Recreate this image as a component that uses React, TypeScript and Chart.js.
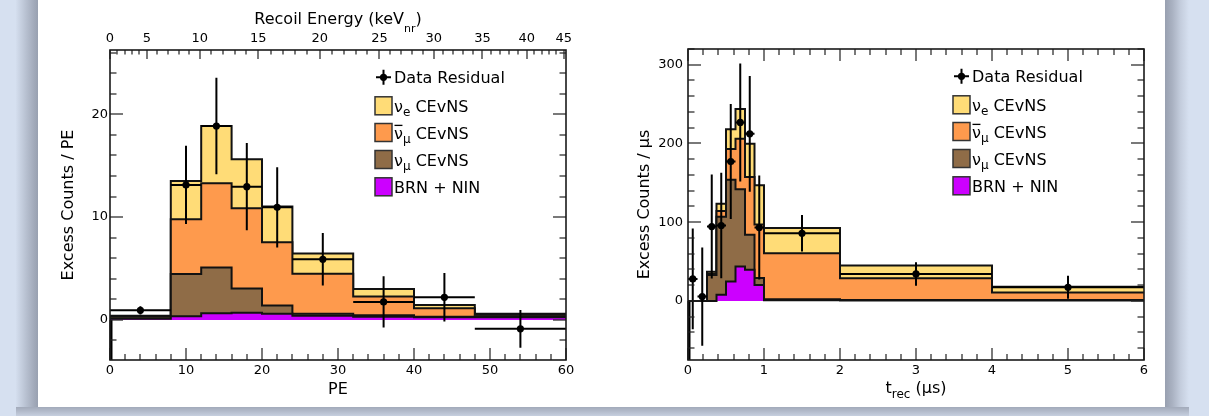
import React, { useEffect, useRef } from "react";
import { Chart, registerables } from "chart.js";

Chart.register(...registerables);

const FONT = "'DejaVu Sans', 'Liberation Sans', Arial, sans-serif";

// ---------------- Left panel: PE spectrum ----------------
const peEdges = [0, 8, 12, 16, 20, 24, 32, 40, 48, 60];
const peBrnNin = [0.1, 0.35, 0.65, 0.7, 0.6, 0.4, 0.3, 0.25, 0.25];
const peNuMu = [0.2, 4.12, 4.44, 2.35, 0.79, 0.2, 0.15, 0.05, 0.1];
const peNuMuBar = [0.05, 5.32, 8.2, 7.81, 6.16, 3.9, 1.82, 0.83, 0.15];
const peNuE = [0.05, 3.71, 5.57, 4.76, 3.47, 1.95, 0.73, 0.33, 0.1];
const peDataX = [4, 10, 14, 18, 22, 28, 36, 44, 54];
const peData = [0.93, 13.13, 18.86, 12.96, 10.95, 5.9, 1.75, 2.2, -0.87];
const peDataErr = [0.4, 3.8, 4.7, 4.25, 3.9, 2.55, 2.5, 2.35, 1.83];
const peXTicks = [0, 10, 20, 30, 40, 50, 60];
const peYTicks = [0, 10, 20];
const keVTickLabels = ["0", "5", "10", "15", "20", "25", "30", "35", "40", "45"];
const keVTickPE = [0, 4.85, 11.8, 19.5, 27.6, 35.45, 42.6, 49.0, 54.85, 59.7];

// ---------------- Right panel: timing ----------------
const tEdges = [0, 0.125, 0.25, 0.375, 0.5, 0.625, 0.75, 0.875, 1, 2, 4, 6];
const tBrnNin = [0, 0, 0, 8, 24.6, 43.6, 39.5, 20.3, 1, 0.7, 0.7];
const tNuMu = [0, 0, 33, 99, 129.2, 98.4, 44.5, 8.7, 1, 0.6, 0.6];
const tNuMuBar = [0, 0, 1.5, 7.4, 39.2, 64, 73.5, 68, 58.6, 27.5, 9.3];
const tNuE = [0, 0, 2.5, 8.9, 25, 37.7, 42, 50, 31.9, 16.1, 7.4];
const tDataX = [0.0625, 0.1875, 0.3125, 0.4375, 0.5625, 0.6875, 0.8125, 0.9375, 1.5, 3, 5];
const tData = [28, 5.5, 94.5, 95.8, 177, 226.7, 212.3, 93.2, 86, 34.3, 17.4];
const tDataErr = [64, 62.5, 66, 67, 73, 75, 73.5, 66, 23.3, 15, 14.6];
const tXTicks = [0, 1, 2, 3, 4, 5, 6];
const tYTicks = [0, 100, 200, 300];

// colours: bottom -> top (BRN+NIN, nu_mu, nubar_mu, nu_e)
const LAYER_COLORS = ["#cc00ff", "#8f6c47", "#fe9a4d", "#ffdc77"];

type Part = { t: string; sub?: boolean; bar?: boolean };
const legendEntries: { kind: string; color?: string; parts: Part[] }[] = [
  { kind: "data", parts: [{ t: "Data Residual" }] },
  { kind: "box", color: LAYER_COLORS[3], parts: [{ t: "ν" }, { t: "e", sub: true }, { t: " CEvNS" }] },
  { kind: "box", color: LAYER_COLORS[2], parts: [{ t: "ν", bar: true }, { t: "μ", sub: true }, { t: " CEvNS" }] },
  { kind: "box", color: LAYER_COLORS[1], parts: [{ t: "ν" }, { t: "μ", sub: true }, { t: " CEvNS" }] },
  { kind: "box", color: LAYER_COLORS[0], parts: [{ t: "BRN + NIN" }] },
];
const legendRowOffsets = [27.3, 55.8, 82.5, 109.5, 136.8];

function stepPoints(edges: number[], values: number[]) {
  const pts: { x: number; y: number }[] = [];
  values.forEach((v, i) => {
    pts.push({ x: edges[i], y: v });
    pts.push({ x: edges[i + 1], y: v });
  });
  return pts;
}

function histDatasets(edges: number[], layers: number[][]) {
  const cum: number[][] = [];
  layers.forEach((layer, li) => {
    cum.push(layer.map((v, i) => v + (li ? cum[li - 1][i] : 0)));
  });
  return cum.map((c, li) => ({
    type: "line",
    xAxisID: "x",
    yAxisID: "y",
    data: stepPoints(edges, c),
    borderColor: "#121212",
    borderWidth: 2,
    backgroundColor: LAYER_COLORS[li],
    fill: "origin",
    pointRadius: 0,
    tension: 0,
    borderJoinStyle: "miter",
  }));
}

function drawParts(ctx: CanvasRenderingContext2D, parts: Part[], x: number, baseline: number, size: number, subSize: number, subDrop: number, measureOnly = false) {
  let cx = x;
  for (const p of parts) {
    const s = p.sub ? subSize : size;
    ctx.font = `${s}px ${FONT}`;
    const w = ctx.measureText(p.t).width;
    if (!measureOnly) {
      ctx.fillText(p.t, cx, baseline + (p.sub ? subDrop : 0));
      if (p.bar) ctx.fillRect(cx + 0.5, baseline - size * 0.86, w - 1, 1.3);
    }
    cx += w;
  }
  return cx - x;
}

type Spec = {
  edges: number[];
  dataX: number[];
  data: number[];
  err: number[];
  xMinor: number;
  xMajor: number;
  yMinor: number;
  yMajor: number;
  mirrorTop: boolean;
  topTicks?: number[];
  topTitle?: Part[];
  xTitleParts?: Part[];
};

function makePlugin(spec: Spec) {
  return {
    id: "panelDecor",
    afterDatasetsDraw(chart: any) {
      const ctx: CanvasRenderingContext2D = chart.ctx;
      const X = chart.scales.x;
      const Y = chart.scales.y;
      ctx.save();
      ctx.strokeStyle = "#000";
      ctx.lineWidth = 2;
      ctx.beginPath();
      spec.data.forEach((v, i) => {
        const py = Y.getPixelForValue(v);
        const px = X.getPixelForValue(spec.dataX[i]);
        ctx.moveTo(X.getPixelForValue(spec.edges[i]), py);
        ctx.lineTo(X.getPixelForValue(spec.edges[i + 1]), py);
        ctx.moveTo(px, Y.getPixelForValue(v + spec.err[i]));
        ctx.lineTo(px, Y.getPixelForValue(v - spec.err[i]));
      });
      ctx.stroke();
      // left edge of histogram going down to axis minimum
      ctx.lineWidth = 3;
      ctx.beginPath();
      const x0 = X.getPixelForValue(spec.edges[0]) + 1;
      ctx.moveTo(x0, Y.getPixelForValue(0));
      ctx.lineTo(x0, chart.chartArea.bottom);
      ctx.stroke();
      ctx.restore();
    },
    afterDraw(chart: any) {
      const ctx: CanvasRenderingContext2D = chart.ctx;
      const { left, right, top, bottom } = chart.chartArea;
      const X = chart.scales.x;
      const Y = chart.scales.y;
      ctx.save();
      // inside ticks, drawn as thin rectangles
      ctx.fillStyle = "#222";
      const TW = 1.2;
      const nX = Math.round((X.max - X.min) / spec.xMinor);
      for (let i = 0; i <= nX; i++) {
        const v = X.min + i * spec.xMinor;
        const major = Math.abs(v / spec.xMajor - Math.round(v / spec.xMajor)) < 1e-6;
        const px = Math.round(X.getPixelForValue(v)) - 0.6;
        const len = major ? 12 : 6;
        ctx.fillRect(px, bottom - len, TW, len);
        if (spec.mirrorTop) ctx.fillRect(px, top, TW, len);
      }
      const yStart = Math.ceil(Y.min / spec.yMinor - 1e-9);
      const yEnd = Math.floor(Y.max / spec.yMinor + 1e-9);
      for (let k = yStart; k <= yEnd; k++) {
        const v = k * spec.yMinor;
        const major = Math.abs(v / spec.yMajor - Math.round(v / spec.yMajor)) < 1e-6;
        const py = Math.round(Y.getPixelForValue(v)) - 0.6;
        const len = major ? 13 : 6.5;
        ctx.fillRect(left, py, len, TW);
        ctx.fillRect(right - len, py, len, TW);
      }
      if (spec.topTicks) {
        const P = spec.topTicks;
        for (let k = 0; k < P.length; k++) {
          const px = Math.round(X.getPixelForValue(P[k])) - 0.6;
          ctx.fillRect(px, top, TW, 9);
          if (k < P.length - 1) {
            for (let j = 1; j < 5; j++) {
              const q = Math.round(X.getPixelForValue(P[k] + ((P[k + 1] - P[k]) * j) / 5)) - 0.6;
              ctx.fillRect(q, top, TW, 4.5);
            }
          }
        }
      }
      // frame
      ctx.strokeStyle = "#1a1a1a";
      ctx.lineWidth = 1.6;
      ctx.strokeRect(left, top, right - left, bottom - top);

      // legend
      ctx.fillStyle = "#000";
      ctx.textBaseline = "alphabetic";
      ctx.textAlign = "left";
      const lx = left + 265;
      legendEntries.forEach((e, i) => {
        const cy = top + legendRowOffsets[i];
        if (e.kind === "data") {
          ctx.strokeStyle = "#000";
          ctx.lineWidth = 2;
          ctx.beginPath();
          ctx.moveTo(lx + 1, cy);
          ctx.lineTo(lx + 16, cy);
          ctx.moveTo(lx + 8.5, cy - 7.5);
          ctx.lineTo(lx + 8.5, cy + 7.5);
          ctx.stroke();
          ctx.beginPath();
          ctx.arc(lx + 8.5, cy, 3.6, 0, Math.PI * 2);
          ctx.fill();
        } else {
          ctx.fillStyle = e.color!;
          ctx.fillRect(lx, cy - 9, 17, 18);
          ctx.strokeStyle = "#333";
          ctx.lineWidth = 1.5;
          ctx.strokeRect(lx, cy - 9, 17, 18);
          ctx.fillStyle = "#000";
        }
        drawParts(ctx, e.parts, lx + 19, cy + 6, 16, 12, 4.5);
      });

      // custom titles with subscripts
      const cx = (left + right) / 2;
      if (spec.topTitle) {
        const w = drawParts(ctx, spec.topTitle, 0, 0, 16, 11, 7.5, true);
        drawParts(ctx, spec.topTitle, cx - w / 2, 24.3, 16, 11, 7.5);
      }
      if (spec.xTitleParts) {
        const w = drawParts(ctx, spec.xTitleParts, 0, 0, 16, 12, 5, true);
        drawParts(ctx, spec.xTitleParts, cx - w / 2, 392.5, 16, 12, 5);
      }
      ctx.restore();
    },
  };
}

const tickFont = { size: 13, family: FONT };
const titleFont = { size: 16, family: FONT };

function baseScaleX(min: number, max: number, ticks: number[], height: number, title?: string) {
  return {
    type: "linear",
    position: "bottom",
    min,
    max,
    grid: { display: false, drawTicks: false },
    border: { display: false },
    afterBuildTicks: (s: any) => {
      s.ticks = ticks.map((v) => ({ value: v }));
    },
    ticks: { font: tickFont, color: "#000", padding: 3, maxRotation: 0, minRotation: 0, autoSkip: false, callback: (v: any) => String(v) },
    title: title
      ? { display: true, text: title, font: titleFont, color: "#000", padding: { top: 0, bottom: 7.8 } }
      : { display: false },
    afterFit: (s: any) => {
      s.height = height;
    },
  };
}

function baseScaleY(min: number, max: number, ticks: number[], width: number, title: string, titlePad: number, tickPad: number) {
  return {
    type: "linear",
    position: "left",
    min,
    max,
    grid: { display: false, drawTicks: false },
    border: { display: false },
    afterBuildTicks: (s: any) => {
      s.ticks = ticks.map((v) => ({ value: v }));
    },
    ticks: { font: tickFont, color: "#000", padding: tickPad, callback: (v: any) => String(v) },
    title: { display: true, text: title, font: titleFont, color: "#000", padding: { top: titlePad, bottom: 0 } },
    afterFit: (s: any) => {
      s.width = width;
    },
  };
}

function scatterDataset(xs: number[], ys: number[]) {
  return {
    type: "scatter",
    xAxisID: "x",
    yAxisID: "y",
    data: xs.map((x, i) => ({ x, y: ys[i] })),
    pointRadius: 3.6,
    pointBackgroundColor: "#000",
    pointBorderColor: "#000",
    pointBorderWidth: 0,
    showLine: false,
  };
}

function leftConfig(): any {
  const spec: Spec = {
    edges: peEdges,
    dataX: peDataX,
    data: peData,
    err: peDataErr,
    xMinor: 2,
    xMajor: 10,
    yMinor: 2,
    yMajor: 10,
    mirrorTop: false,
    topTicks: keVTickPE,
    topTitle: [{ t: "Recoil Energy (keV" }, { t: "nr", sub: true }, { t: ")" }],
  };
  return {
    type: "line",
    data: {
      datasets: [scatterDataset(peDataX, peData), ...histDatasets(peEdges, [peBrnNin, peNuMu, peNuMuBar, peNuE])],
    },
    options: {
      responsive: false,
      animation: false,
      events: [],
      layout: { padding: { left: 0, right: 34, top: 0, bottom: 0 } },
      plugins: { legend: { display: false }, tooltip: { enabled: false } },
      scales: {
        x: baseScaleX(0, 60, peXTicks, 47, "PE"),
        x2: {
          type: "linear",
          position: "top",
          min: 0,
          max: 60,
          grid: { display: false, drawTicks: false },
          border: { display: false },
          afterBuildTicks: (s: any) => {
            s.ticks = keVTickPE.map((v) => ({ value: v }));
          },
          ticks: {
            font: tickFont,
            color: "#000",
            padding: 4,
            maxRotation: 0,
            minRotation: 0,
            autoSkip: false,
            callback: (_v: any, i: number) => keVTickLabels[i],
          },
          afterFit: (s: any) => {
            s.height = 50;
          },
        },
        y: baseScaleY(-3.9, 26.25, peYTicks, 72, "Excess Counts / PE", 21.3, 2),
      },
    },
    plugins: [makePlugin(spec)],
  };
}

function rightConfig(): any {
  const spec: Spec = {
    edges: tEdges,
    dataX: tDataX,
    data: tData,
    err: tDataErr,
    xMinor: 0.2,
    xMajor: 1,
    yMinor: 20,
    yMajor: 100,
    mirrorTop: true,
    xTitleParts: [{ t: "t" }, { t: "rec", sub: true }, { t: " (μs)" }],
  };
  return {
    type: "line",
    data: {
      datasets: [scatterDataset(tDataX, tData), ...histDatasets(tEdges, [tBrnNin, tNuMu, tNuMuBar, tNuE])],
    },
    options: {
      responsive: false,
      animation: false,
      events: [],
      layout: { padding: { left: 0, right: 21, top: 49, bottom: 0 } },
      plugins: { legend: { display: false }, tooltip: { enabled: false } },
      scales: {
        x: baseScaleX(0, 6, tXTicks, 47),
        y: baseScaleY(-75, 320, tYTicks, 88, "Excess Counts / μs", 35, 5),
      },
    },
    plugins: [makePlugin(spec)],
  };
}

function ChartCanvas(props: { left: number; width: number; height: number; make: () => any }) {
  const ref = useRef<HTMLCanvasElement>(null);
  useEffect(() => {
    const chart = new Chart(ref.current as HTMLCanvasElement, props.make());
    return () => chart.destroy();
  }, []);
  return (
    <canvas
      ref={ref}
      width={props.width}
      height={props.height}
      style={{ position: "absolute", left: props.left, top: 0, width: props.width, height: props.height }}
    />
  );
}

export default function App() {
  return (
    <div
      style={{
        position: "fixed",
        left: 0,
        top: 0,
        width: 1209,
        height: 416,
        overflow: "hidden",
        background: "#d6e0f0",
        fontFamily: FONT,
      }}
    >
      <div
        style={{
          position: "absolute",
          left: 16,
          top: 0,
          width: 22,
          height: 416,
          background: "linear-gradient(to right, #d4deee 0%, #b8c1d1 45%, #a3abbb 80%, #98a0b0 100%)",
        }}
      />
      <div
        style={{
          position: "absolute",
          left: 1165,
          top: 0,
          width: 24,
          height: 416,
          background: "linear-gradient(to right, #98a0b0 0%, #a9b1c1 30%, #c4cddd 65%, #d6e0f0 100%)",
        }}
      />
      <div
        style={{
          position: "absolute",
          left: 16,
          top: 407,
          width: 1173,
          height: 9,
          background: "linear-gradient(to bottom, #a2aaba 0%, #b4bccc 50%, #c6cfdf 100%)",
        }}
      />
      <div style={{ position: "absolute", left: 38, top: 0, width: 1127, height: 407, background: "#ffffff" }} />
      <ChartCanvas left={38} width={562} height={407} make={leftConfig} />
      <ChartCanvas left={600} width={565} height={407} make={rightConfig} />
    </div>
  );
}
